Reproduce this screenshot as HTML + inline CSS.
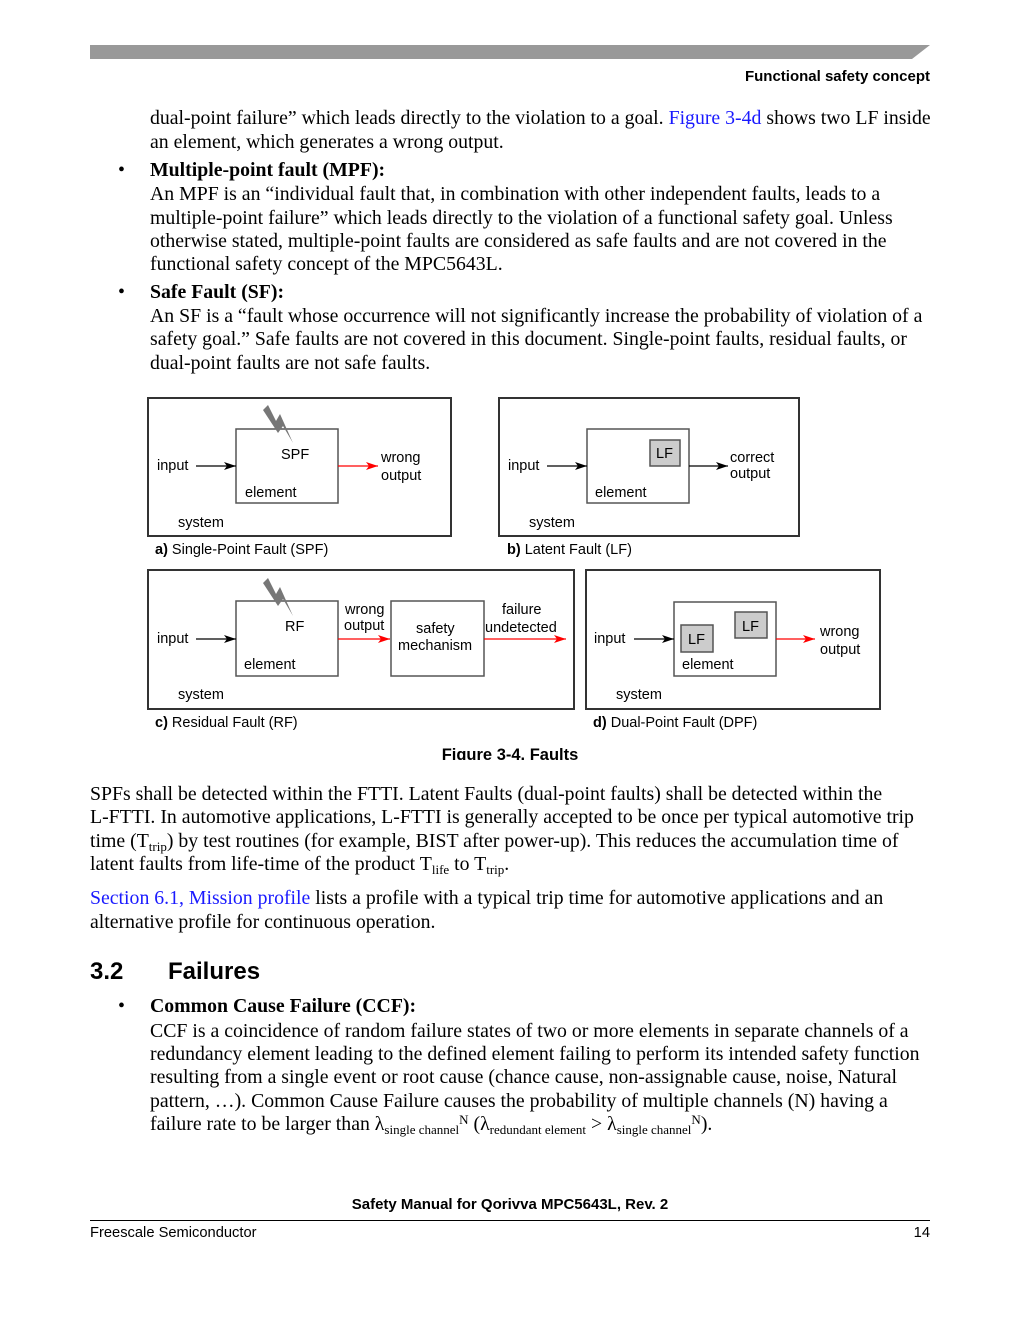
<!DOCTYPE html>
<html><head><meta charset="utf-8"><style>
body{margin:0;background:#fff;}
#p{position:relative;width:1020px;height:1320px;overflow:hidden;font-family:"Liberation Serif",serif;color:#000;}
.t{position:absolute;font-size:19.8px;line-height:24px;white-space:nowrap;}
.s{position:absolute;font-family:"Liberation Sans",sans-serif;white-space:nowrap;}
.b{font-weight:bold;}
.l{color:#1a1aff;}
sub{font-size:13px;vertical-align:-4px;line-height:0;}
sup{font-size:13px;vertical-align:6px;line-height:0;}
</style></head><body><div id="p">
<svg style="position:absolute;left:0;top:0" width="1020" height="60"><polygon points="90,45 930,45 912,59 90,59" fill="#999"/></svg>
<div class="s b" style="right:90px;top:68px;font-size:15px">Functional safety concept</div>

<div class="t" style="left:150px;top:106px">dual-point failure” which leads directly to the violation to a goal. <span class="l">Figure 3-4d</span> shows two LF inside</div>
<div class="t" style="left:150px;top:130px">an element, which generates a wrong output.</div>
<div class="t" style="left:118px;top:158px">•</div>
<div class="t b" style="left:150px;top:158px">Multiple-point fault (MPF):</div>
<div class="t" style="left:150px;top:182px">An MPF is an “individual fault that, in combination with other independent faults, leads to a</div>
<div class="t" style="left:150px;top:206px">multiple-point failure” which leads directly to the violation of a functional safety goal. Unless</div>
<div class="t" style="left:150px;top:229px">otherwise stated, multiple-point faults are considered as safe faults and are not covered in the</div>
<div class="t" style="left:150px;top:252px">functional safety concept of the MPC5643L.</div>
<div class="t" style="left:118px;top:280px">•</div>
<div class="t b" style="left:150px;top:280px">Safe Fault (SF):</div>
<div class="t" style="left:150px;top:304px">An SF is a “fault whose occurrence will not significantly increase the probability of violation of a</div>
<div class="t" style="left:150px;top:327px">safety goal.” Safe faults are not covered in this document. Single-point faults, residual faults, or</div>
<div class="t" style="left:150px;top:351px">dual-point faults are not safe faults.</div>

<svg style="position:absolute;left:0;top:0" width="1020" height="760" font-family="Liberation Sans, sans-serif" font-size="14.5">
<defs>
<marker id="ak" markerWidth="12" markerHeight="8" refX="12" refY="4" orient="auto" markerUnits="userSpaceOnUse"><path d="M0,0 L12,4 L0,8 L3,4z" fill="#000"/></marker>
<marker id="ar" markerWidth="12" markerHeight="8" refX="12" refY="4" orient="auto" markerUnits="userSpaceOnUse"><path d="M0,0 L12,4 L0,8 L3,4z" fill="#f00"/></marker>
<g id="bolt"><polygon points="263,410 268,405 276,421 280,414 293,443 283,426 278,433" fill="#777"/></g>
</defs>
<g fill="none" stroke="#333" stroke-width="2">
<rect x="148" y="398" width="303" height="138"/>
<rect x="499" y="398" width="300" height="138"/>
<rect x="148" y="570" width="426" height="139"/>
<rect x="586" y="570" width="294" height="139"/>
</g>
<g fill="none" stroke="#555" stroke-width="1.5">
<rect x="236" y="429" width="102" height="74"/>
<rect x="587" y="429" width="102" height="74"/>
<rect x="236" y="601" width="102" height="75"/>
<rect x="391" y="601" width="93" height="75"/>
<rect x="674" y="602" width="102" height="74"/>
</g>
<g fill="#ccc" stroke="#555" stroke-width="1.5">
<rect x="650" y="440" width="30" height="26"/>
<rect x="681" y="625" width="32" height="27"/>
<rect x="735" y="612" width="32" height="26"/>
</g>
<use href="#bolt"/>
<use href="#bolt" transform="translate(0,173)"/>
<g stroke-width="1.3">
<line x1="196" y1="466" x2="236" y2="466" stroke="#000" marker-end="url(#ak)"/>
<line x1="338" y1="466" x2="378" y2="466" stroke="#f00" marker-end="url(#ar)"/>
<line x1="547" y1="466" x2="587" y2="466" stroke="#000" marker-end="url(#ak)"/>
<line x1="689" y1="466" x2="728" y2="466" stroke="#000" marker-end="url(#ak)"/>
<line x1="196" y1="639" x2="236" y2="639" stroke="#000" marker-end="url(#ak)"/>
<line x1="338" y1="639" x2="390" y2="639" stroke="#f00" marker-end="url(#ar)"/>
<line x1="484" y1="639" x2="566" y2="639" stroke="#f00" marker-end="url(#ar)"/>
<line x1="634" y1="639" x2="674" y2="639" stroke="#000" marker-end="url(#ak)"/>
<line x1="776" y1="639" x2="815" y2="639" stroke="#f00" marker-end="url(#ar)"/>
</g>
<g fill="#000">
<text x="157" y="470">input</text><text x="281" y="459">SPF</text><text x="245" y="497">element</text><text x="178" y="527">system</text>
<text x="381" y="462">wrong</text><text x="381" y="480">output</text>
<text x="155" y="554"><tspan font-weight="bold">a)</tspan> Single-Point Fault (SPF)</text>
<text x="508" y="470">input</text><text x="595" y="497">element</text><text x="529" y="527">system</text>
<text x="656" y="458">LF</text>
<text x="730" y="462">correct</text><text x="730" y="478">output</text>
<text x="507" y="554"><tspan font-weight="bold">b)</tspan> Latent Fault (LF)</text>
<text x="157" y="643">input</text><text x="285" y="631">RF</text><text x="244" y="669">element</text><text x="178" y="699">system</text>
<text x="345" y="614">wrong</text><text x="344" y="630">output</text>
<text x="416" y="633">safety</text><text x="398" y="650">mechanism</text>
<text x="502" y="614">failure</text><text x="485" y="632">undetected</text>
<text x="155" y="727"><tspan font-weight="bold">c)</tspan> Residual Fault (RF)</text>
<text x="594" y="643">input</text><text x="682" y="669">element</text><text x="616" y="699">system</text>
<text x="688" y="644">LF</text><text x="742" y="631">LF</text>
<text x="820" y="636">wrong</text><text x="820" y="654">output</text>
<text x="593" y="727"><tspan font-weight="bold">d)</tspan> Dual-Point Fault (DPF)</text>
<text x="510" y="760" text-anchor="middle" font-weight="bold" font-size="16.5">Figure 3-4. Faults</text>
</g>
</svg>

<div class="t" style="left:90px;top:782px">SPFs shall be detected within the FTTI. Latent Faults (dual-point faults) shall be detected within the</div>
<div class="t" style="left:90px;top:805px">L-FTTI. In automotive applications, L-FTTI is generally accepted to be once per typical automotive trip</div>
<div class="t" style="left:90px;top:829px">time (T<sub>trip</sub>) by test routines (for example, BIST after power-up). This reduces the accumulation time of</div>
<div class="t" style="left:90px;top:852px">latent faults from life-time of the product T<sub>life</sub> to T<sub>trip</sub>.</div>
<div class="t" style="left:90px;top:886px"><span class="l">Section 6.1, Mission profile</span> lists a profile with a typical trip time for automotive applications and an</div>
<div class="t" style="left:90px;top:910px">alternative profile for continuous operation.</div>
<div class="s b" style="left:90px;top:958px;font-size:24px">3.2</div>
<div class="s b" style="left:168px;top:958px;font-size:24px">Failures</div>
<div class="t" style="left:118px;top:994px">•</div>
<div class="t b" style="left:150px;top:994px">Common Cause Failure (CCF):</div>
<div class="t" style="left:150px;top:1019px">CCF is a coincidence of random failure states of two or more elements in separate channels of a</div>
<div class="t" style="left:150px;top:1042px">redundancy element leading to the defined element failing to perform its intended safety function</div>
<div class="t" style="left:150px;top:1065px">resulting from a single event or root cause (chance cause, non-assignable cause, noise, Natural</div>
<div class="t" style="left:150px;top:1089px">pattern, …). Common Cause Failure causes the probability of multiple channels (N) having a</div>
<div class="t" style="left:150px;top:1112px">failure rate to be larger than λ<sub>single channel</sub><sup>N</sup> (λ<sub>redundant element</sub> &gt; λ<sub>single channel</sub><sup>N</sup>).</div>

<div class="s b" style="left:0;width:1020px;text-align:center;top:1196px;font-size:15px">Safety Manual for Qorivva MPC5643L, Rev. 2</div>
<div style="position:absolute;left:90px;top:1220px;width:840px;height:1px;background:#000"></div>
<div class="s" style="left:90px;top:1225px;font-size:14.7px">Freescale Semiconductor</div>
<div class="s" style="right:90px;top:1225px;font-size:14.7px">14</div>
</div></body></html>
